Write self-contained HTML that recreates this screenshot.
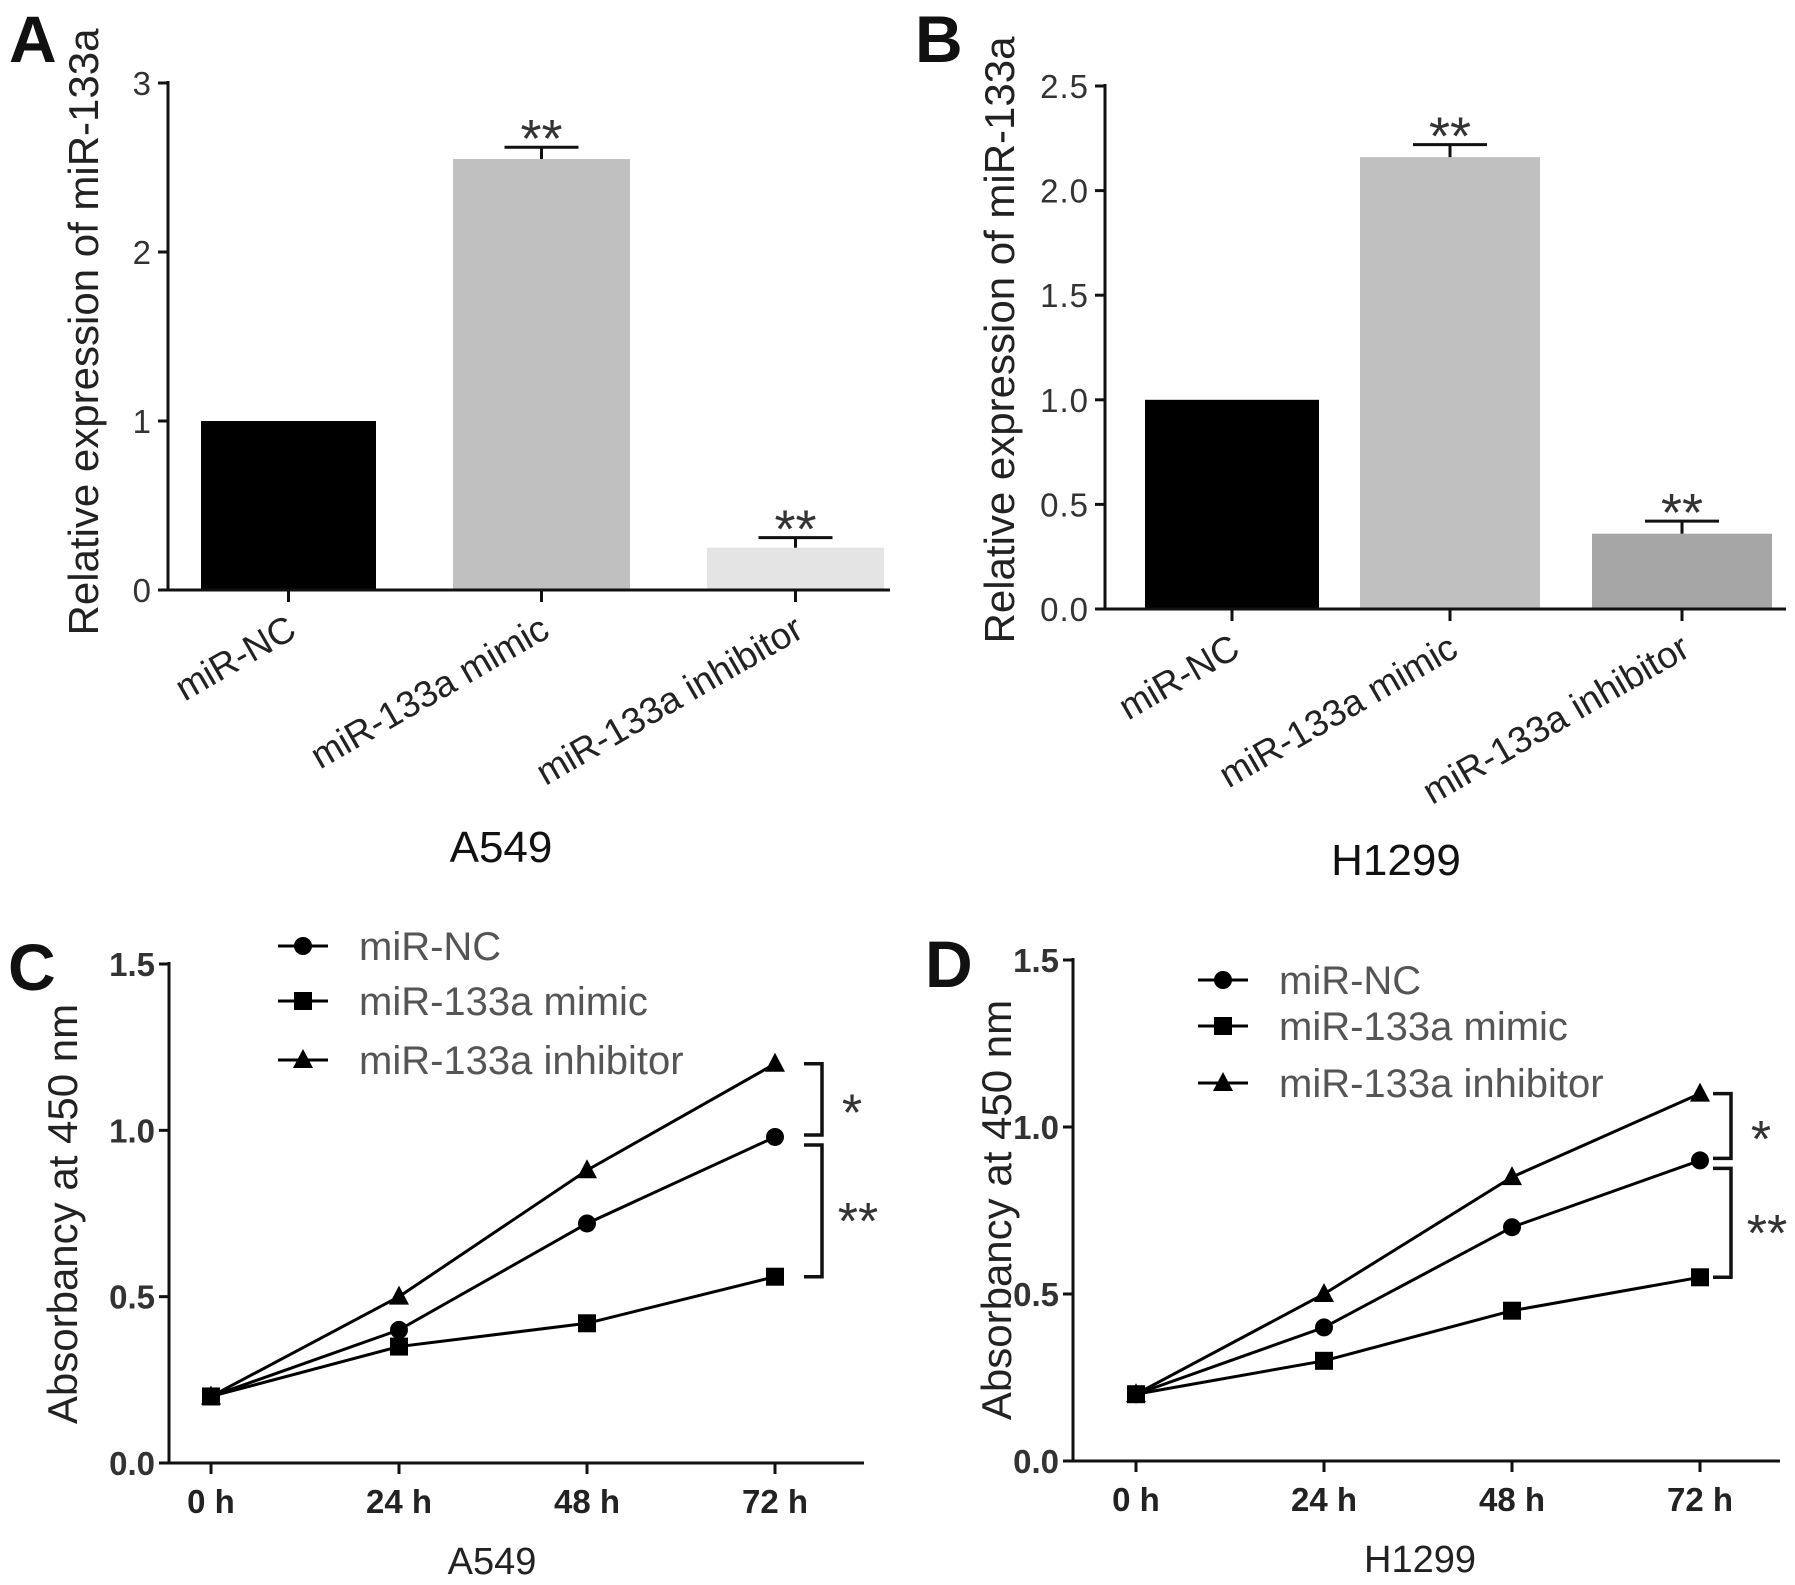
<!DOCTYPE html>
<html><head><meta charset="utf-8"><style>
html,body{margin:0;padding:0;background:#fff}
svg{display:block;font-family:"Liberation Sans",Arial,sans-serif}
</style></head><body>
<svg id="fig" width="1795" height="1585" viewBox="0 0 1795 1585" xmlns="http://www.w3.org/2000/svg"></svg>
<script>
// ---- data ----
const barCategories = ["miR-NC","miR-133a mimic","miR-133a inhibitor"];
const barA = [1.0, 2.55, 0.25];
const barAErr = [0.0, 0.07, 0.06];
const barB = [1.0, 2.16, 0.36];
const barBErr = [0.0, 0.06, 0.06];
const barATicks = [0,1,2,3];
const barBTicks = [0,0.5,1.0,1.5,2.0,2.5];
const timeLabels = ["0 h","24 h","48 h","72 h"];
const lineSeries = ["miR-NC","miR-133a mimic","miR-133a inhibitor"];
const lineC_NC = [0.2,0.4,0.72,0.98];
const lineC_mimic = [0.2,0.35,0.42,0.56];
const lineC_inhib = [0.2,0.5,0.88,1.2];
const lineD_NC = [0.2,0.4,0.7,0.9];
const lineD_mimic = [0.2,0.3,0.45,0.55];
const lineD_inhib = [0.2,0.5,0.85,1.1];
const lineTicks = [0,0.5,1.0,1.5];

const NS="http://www.w3.org/2000/svg";
const svg=document.getElementById('fig');
function el(tag,attrs,parent,text){
  const e=document.createElementNS(NS,tag);
  for(const k in attrs)e.setAttribute(k,attrs[k]);
  if(text!==undefined)e.textContent=text;
  (parent||svg).appendChild(e);return e;
}
function g(name){const e=el('g',{});
  
  
  return e;}
function lbl(e,name){
  
  
  return e;}

function barPanel(o){
  const P=g(o.name);
  const y=v=>o.y0-(v/o.ymax)*(o.y0-o.ytop);
  lbl(el('text',{x:o.letterX,y:o.letterY,'font-size':66,'font-weight':'bold',fill:'#111'},P,o.letter),'panel-letter');
  o.vals.forEach((v,i)=>{
    const b=el('rect',{x:o.bx[i][0],y:y(v),width:o.bx[i][1]-o.bx[i][0],height:o.y0-y(v),fill:o.colors[i]},P);
    
    
    if(o.err[i]>0){
      const cx=(o.bx[i][0]+o.bx[i][1])/2, ye=y(v+o.err[i]);
      el('line',{x1:cx,x2:cx,y1:y(v),y2:ye,stroke:'#111','stroke-width':3},P);
      el('line',{x1:cx-37,x2:cx+37,y1:ye,y2:ye,stroke:'#111','stroke-width':3},P);
      lbl(el('text',{x:cx,y:ye+10,'font-size':54,'text-anchor':'middle',fill:'#333'},P,'**'),'significance-label');
    }
  });
  el('line',{x1:o.ax,x2:o.ax,y1:o.ytop-2,y2:o.y0+1,stroke:'#111','stroke-width':3},P);
  el('line',{x1:o.ax-1,x2:o.axEnd,y1:o.y0,y2:o.y0,stroke:'#111','stroke-width':3},P);
  o.ticks.forEach(t=>{
    el('line',{x1:o.ax-10,x2:o.ax,y1:y(t),y2:y(t),stroke:'#111','stroke-width':3},P);
    lbl(el('text',{x:o.ax-16,y:y(t)+12,'font-size':33,'letter-spacing':1,'text-anchor':'end',fill:'#333'},P,o.tickFmt(t)),'y-tick-label');
  });
  barCategories.forEach((c,i)=>{
    const cx=(o.bx[i][0]+o.bx[i][1])/2;
    el('line',{x1:cx,x2:cx,y1:o.y0,y2:o.y0+12,stroke:'#111','stroke-width':3},P);
    lbl(el('text',{x:cx+10,y:o.y0+46,'font-size':37,'text-anchor':'end',fill:'#222',transform:`rotate(-30 ${cx+10} ${o.y0+46})`},P,c),'x-category-label');
  });
  lbl(el('text',{x:0,y:0,'font-size':42,'text-anchor':'middle',fill:'#222',transform:`translate(${o.titleX} ${o.titleY}) rotate(-90)`},P,'Relative expression of miR-133a'),'y-axis-title');
  lbl(el('text',{x:o.cellX,y:o.cellY,'font-size':44,'text-anchor':'middle',fill:'#111'},P,o.cell),'cell-line-label');
}

barPanel({name:'panel-a',letter:'A',letterX:9,letterY:62,vals:barA,err:barAErr,ymax:3,y0:590,ytop:83,ax:168,axEnd:890,
  bx:[[201,376],[453,630],[707,884]],colors:['#000','#c0c0c0','#e4e4e4'],ticks:barATicks,tickFmt:t=>String(t),
  titleX:98,titleY:332,cellX:501,cellY:862,cell:'A549'});
barPanel({name:'panel-b',letter:'B',letterX:915,letterY:62,vals:barB,err:barBErr,ymax:2.5,y0:609,ytop:86,ax:1105,axEnd:1786,
  bx:[[1145,1319],[1360,1540],[1592,1772]],colors:['#000','#c0c0c0','#a6a6a6'],ticks:barBTicks,tickFmt:t=>t.toFixed(1),
  titleX:1014,titleY:340,cellX:1396,cellY:875,cell:'H1299'});

function marker(P,type,x,y){
  if(type===0)el('circle',{cx:x,cy:y,r:9,fill:'#000'},P);
  else if(type===1)el('rect',{x:x-9,y:y-9,width:18,height:18,fill:'#000'},P);
  else el('polygon',{points:`${x},${y-11} ${x+10},${y+8} ${x-10},${y+8}`,fill:'#000'},P);
}
function linePanel(o){
  const P=g(o.name);
  const y=v=>o.y0-(v/1.5)*(o.y0-o.ytop);
  const x=i=>o.xs0+i*(o.xs3-o.xs0)/3;
  lbl(el('text',{x:o.letterX,y:o.letterY,'font-size':66,'font-weight':'bold',fill:'#111'},P,o.letter),'panel-letter');
  el('line',{x1:o.ax,x2:o.ax,y1:o.ytop-2,y2:o.y0+1,stroke:'#111','stroke-width':3},P);
  el('line',{x1:o.ax-1,x2:o.axEnd,y1:o.y0,y2:o.y0,stroke:'#111','stroke-width':3},P);
  lineTicks.forEach(t=>{
    el('line',{x1:o.ax-10,x2:o.ax,y1:y(t),y2:y(t),stroke:'#111','stroke-width':3},P);
    lbl(el('text',{x:o.ax-14,y:y(t)+12,'font-size':33,'font-weight':'bold','text-anchor':'end',fill:'#333'},P,t.toFixed(1)),'y-tick-label');
  });
  timeLabels.forEach((t,i)=>{
    el('line',{x1:x(i),x2:x(i),y1:o.y0,y2:o.y0+11,stroke:'#111','stroke-width':3},P);
    lbl(el('text',{x:x(i),y:o.y0+50,'font-size':33,'font-weight':'bold','text-anchor':'middle',fill:'#222'},P,t),'x-tick-label');
  });
  o.series.forEach((s,k)=>{
    const sg=g('series-'+lineSeries[k].replace(/\s+/g,'-').toLowerCase());
    P.appendChild(sg);
    el('polyline',{points:s.map((v,i)=>x(i)+','+y(v)).join(' '),fill:'none',stroke:'#000','stroke-width':3},sg);
    s.forEach((v,i)=>marker(sg,k,x(i),y(v)));
  });
  lineSeries.forEach((n,k)=>{
    const ly=o.legY[k];
    el('line',{x1:o.legX-25,x2:o.legX+25,y1:ly,y2:ly,stroke:'#000','stroke-width':3},P);
    marker(P,k,o.legX,ly);
    lbl(el('text',{x:o.legX+56,y:ly+14,'font-size':40,fill:'#555'},P,n),'legend-entry');
  });
  const s3=o.series.map(s=>s[3]);
  const bx=o.brX;
  const t1=y(s3[2]),m=y(s3[0]),b=y(s3[1]);
  el('polyline',{points:`${bx-18},${t1} ${bx},${t1} ${bx},${m-2} ${bx-18},${m-2}`,fill:'none',stroke:'#111','stroke-width':3.5},P);
  el('polyline',{points:`${bx-18},${m+8} ${bx},${m+8} ${bx},${b} ${bx-18},${b}`,fill:'none',stroke:'#111','stroke-width':3.5},P);
  lbl(el('text',{x:bx+30,y:(t1+m)/2+30,'font-size':52,'text-anchor':'middle',fill:'#333'},P,'*'),'significance-label');
  lbl(el('text',{x:bx+36,y:(m+b)/2+32,'font-size':52,'text-anchor':'middle',fill:'#333'},P,'**'),'significance-label');
  lbl(el('text',{x:0,y:0,'font-size':42,'text-anchor':'middle',fill:'#222',transform:`translate(${o.titleX} ${o.titleY}) rotate(-90)`},P,'Absorbancy at 450 nm'),'y-axis-title');
  lbl(el('text',{x:o.cellX,y:o.cellY,'font-size':38,'text-anchor':'middle',fill:'#222'},P,o.cell),'cell-line-label');
}
linePanel({name:'panel-c',letter:'C',letterX:8,letterY:990,ax:169,axEnd:864,y0:1463,ytop:964,xs0:211,xs3:775,
  series:[lineC_NC,lineC_mimic,lineC_inhib],legX:303,legY:[946,1001,1060],brX:822,
  titleX:77,titleY:1214,cellX:492,cellY:1574,cell:'A549'});
linePanel({name:'panel-d',letter:'D',letterX:925,letterY:987,ax:1073,axEnd:1780,y0:1461,ytop:960,xs0:1136,xs3:1700,
  series:[lineD_NC,lineD_mimic,lineD_inhib],legX:1223,legY:[980,1026,1083],brX:1731,
  titleX:1011,titleY:1210,cellX:1420,cellY:1572,cell:'H1299'});
</script>
</body></html>
